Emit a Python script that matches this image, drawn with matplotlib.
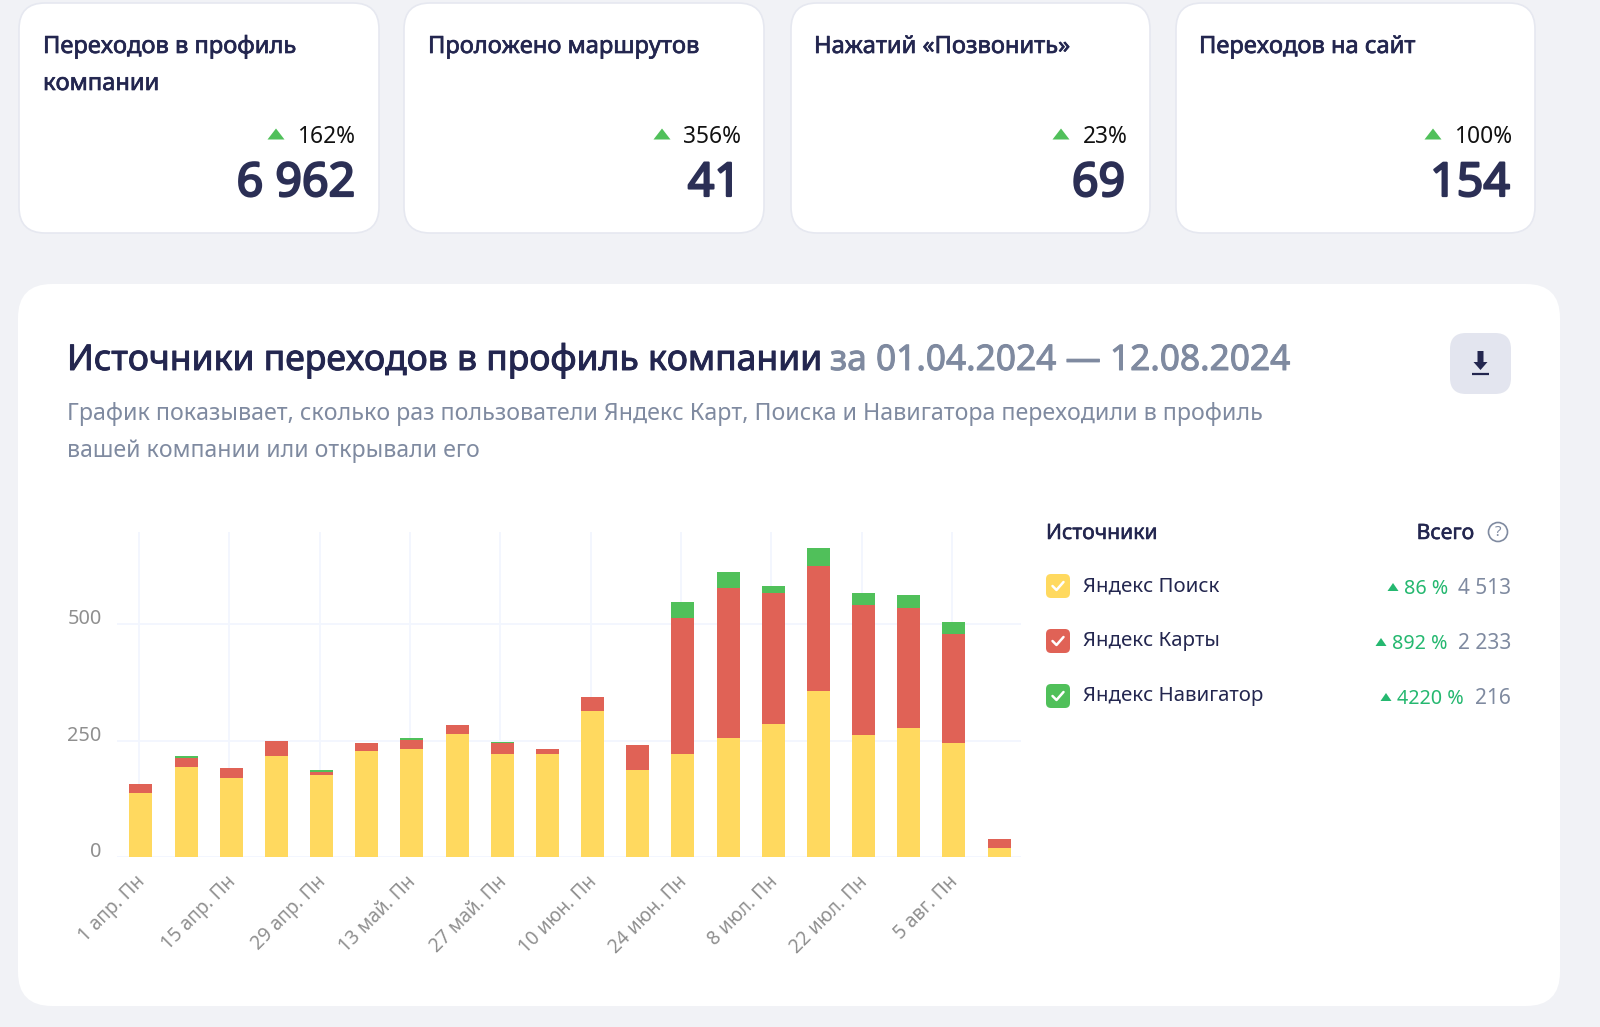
import numpy as np
import matplotlib
matplotlib.use("Agg")
import matplotlib.pyplot as plt
import matplotlib.patheffects as pe
from matplotlib.patches import FancyBboxPatch, Polygon, Circle
from matplotlib.transforms import ScaledTranslation

plt.rcParams['font.family'] = ['Noto Sans', 'DejaVu Sans']

# weekly counts per source
search = [137, 193, 170, 216, 176, 228, 232, 265, 222, 222, 314, 186, 222, 255, 285, 357, 261, 278, 245, 19]
maps = [19, 19, 22, 33, 7, 16, 19, 19, 22, 9, 30, 55, 292, 322, 282, 269, 280, 256, 233, 19]
navi = [0, 4, 0, 0, 3, 0, 4, 0, 4, 0, 0, 0, 34, 36, 16, 37, 26, 29, 26, 0]
week_labels = ["1 апр. Пн", "15 апр. Пн", "29 апр. Пн", "13 май. Пн", "27 май. Пн",
               "10 июн. Пн", "24 июн. Пн", "8 июл. Пн", "22 июл. Пн", "5 авг. Пн"]
y_ticks = [0, 250, 500]

card_titles = ["Переходов в профиль\nкомпании", "Проложено маршрутов", "Нажатий «Позвонить»", "Переходов на сайт"]
card_pcts = ["162%", "356%", "23%", "100%"]
card_values = ["6 962", "41", "69", "154"]

source_names = ["Яндекс Поиск", "Яндекс Карты", "Яндекс Навигатор"]
source_pcts = ["86 %", "892 %", "4220 %"]
source_totals = ["4 513", "2 233", "216"]

BG = "#f1f2f6"
DARK = "#23264f"
GREY = "#7f8aa0"
YELLOW = "#ffd95f"
RED = "#e06256"
GREEN = "#50c05a"
TEAL = "#25b870"

fig = plt.figure(figsize=(16, 10.27), dpi=100, facecolor=BG)

# page layer works in pixels, y going down
page = fig.add_axes([0, 0, 1, 1])
page.set_xlim(0, 1600)
page.set_ylim(1027, 0)
page.axis("off")


def box(x0, y0, x1, y1, r, fc, ec="none", lw=0):
    page.add_patch(FancyBboxPatch((x0 + r, y0 + r), x1 - x0 - 2 * r, y1 - y0 - 2 * r,
                                  boxstyle="round,pad=%f,rounding_size=%f" % (r, r),
                                  fc=fc, ec=ec, lw=lw))


def triangle(cx, cy, w, h, color):
    page.add_patch(Polygon([(cx - w / 2, cy + h / 2), (cx + w / 2, cy + h / 2), (cx, cy - h / 2)],
                           closed=True, fc=color, ec="none"))


# the family has one weight here, so heavier text gets an outline of its own colour
def heavy(text, width):
    text.set_path_effects([pe.withStroke(linewidth=width, foreground=text.get_color())])


# top cards
card_x = [(19, 379), (404, 764), (791, 1150), (1176, 1535)]
card_title_x = [43, 428, 814, 1199]
pct_right = [355, 741, 1127, 1512]
value_right = [355, 741, 1125, 1510]
pct_tri = [276, 662, 1061, 1433]
for i in range(4):
    x0, x1 = card_x[i]
    box(x0, 3, x1, 233, 26, "white", "#e6e8f0", 1.2)
    for j, line in enumerate(card_titles[i].split("\n")):
        heavy(page.text(card_title_x[i], 53 + 37 * j, line, fontsize=17.05, color=DARK, va="baseline"), 0.5)
    page.text(pct_right[i] + 0.5, 143, card_pcts[i], fontsize=16.4, color="#111111", ha="right", va="baseline")
    triangle(pct_tri[i], 134, 17, 11, GREEN)
    heavy(page.text(value_right[i], 196, card_values[i], fontsize=33.5, color="#2b2f55",
                    ha="right", va="baseline"), 1.6)

# main panel
box(18, 284, 1560, 1006, 34, "white")
heavy(page.text(67, 370, "Источники переходов в профиль компании", fontsize=25.55, color=DARK, va="baseline"), 0.7)
heavy(page.text(830, 370, "за 01.04.2024 — 12.08.2024", fontsize=25.4, color=GREY, va="baseline"), 0.7)
page.text(67, 420, "График показывает, сколько раз пользователи Яндекс Карт, Поиска и Навигатора переходили в профиль",
          fontsize=16.72, color=GREY, va="baseline")
page.text(67, 457, "вашей компании или открывали его", fontsize=16.65, color=GREY, va="baseline")

# download button
box(1450, 333, 1511, 394, 16, "#e3e5ef")
page.add_patch(Polygon([(1477.5, 351), (1483.5, 351), (1483.5, 362), (1487.5, 362), (1480.5, 370),
                        (1473.5, 362), (1477.5, 362)], closed=True, fc=DARK, ec="none"))
page.plot([1472, 1489], [374, 374], color=DARK, lw=1.6, solid_capstyle="butt")

# legend table
heavy(page.text(1046, 539, "Источники", fontsize=15.2, color=DARK, va="baseline"), 0.4)
heavy(page.text(1474, 539, "Всего", fontsize=15.2, color=DARK, ha="right", va="baseline"), 0.4)
page.add_patch(Circle((1498, 532), 9.5, fc="none", ec=GREY, lw=1.2))
page.text(1498, 532, "?", fontsize=11, color=GREY, ha="center", va="center")

legend_y = [586, 641, 696]
legend_colors = [YELLOW, RED, GREEN]
pct_rights = [1448, 1448, 1464]
pct_tris = [1393, 1381, 1386]
for i in range(3):
    y = legend_y[i]
    box(1046, y - 12, 1070, y + 12, 5, legend_colors[i])
    page.plot([1052.5, 1056.5, 1063.5], [y, y + 4, y - 4], color="white", lw=1.8,
              solid_capstyle="round", solid_joinstyle="round")
    page.text(1083, y + 5, source_names[i], fontsize=14.7, color=DARK, va="baseline")
    triangle(pct_tris[i], y + 1, 11, 8, TEAL)
    page.text(pct_rights[i], y + 8, source_pcts[i], fontsize=14.2, color=TEAL, ha="right", va="baseline")
    page.text(1511, y + 8, source_totals[i], fontsize=15, color=GREY, ha="right", va="baseline")

# stacked bars, axes placed in pixels
ax = fig.add_axes([117 / 1600, 1 - 857 / 1027, (1021 - 117) / 1600, (857 - 532) / 1027])
ax.patch.set_alpha(0)
x = np.arange(len(search))
search_a = np.array(search)
maps_a = np.array(maps)
navi_a = np.array(navi)
ax.bar(x, search_a, width=0.51, color=YELLOW, zorder=3)
ax.bar(x, maps_a, width=0.51, bottom=search_a, color=RED, zorder=3)
ax.bar(x, navi_a, width=0.51, bottom=search_a + maps_a, color=GREEN, zorder=3)

ax.set_xlim(-0.531, 19.486)
ax.set_ylim(0, 698)
ax.set_xticks(x[::2] - 0.04)
ax.set_xticklabels(week_labels, rotation=45, ha="right", va="center", rotation_mode="anchor",
                   fontsize=13.7, color="#8f8f8f")
ax.set_yticks(y_ticks)
ax.set_yticklabels([str(v) for v in y_ticks], fontsize=14.3, color="#8f8f8f", va="baseline")
ax.tick_params(axis="both", length=0)
ax.tick_params(axis="x", pad=16)
ax.tick_params(axis="y", pad=11)
ax.grid(True, color="#f2f6fe", lw=1.3, zorder=0)
ax.set_axisbelow(True)
for s in ax.spines.values():
    s.set_visible(False)

# nudge the rotated dates to the right of their grid lines
shift = ScaledTranslation(3 / 100, 0, fig.dpi_scale_trans)
for label in ax.get_xticklabels():
    label.set_transform(label.get_transform() + shift)

fig.savefig("out.png", dpi=100, facecolor=BG)
